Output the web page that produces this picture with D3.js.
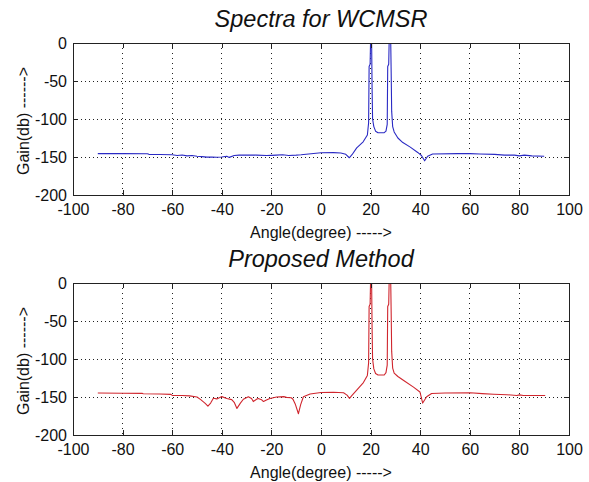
<!DOCTYPE html>
<html>
<head>
<meta charset="utf-8">
<script src="https://cdn.jsdelivr.net/npm/d3@7"></script>
<style>
  html, body { margin: 0; padding: 0; background: #fff; }
  svg { display: block; }
  text { font-family: "Liberation Sans", Arial, Helvetica, sans-serif; fill: #111; }
</style>
</head>
<body>
<script>
// ---------- data ----------
const titles = ["Spectra for WCMSR", "Proposed Method"];
const xLabel = "Angle(degree) ----->";
const yLabel = "Gain(db) ------>";
const xTicks = [-100, -80, -60, -40, -20, 0, 20, 40, 60, 80, 100];
const yTicks = [-200, -150, -100, -50, 0];

const wcmsrAngle = [-90, -80, -70, -69.4, -65, -60, -58, -56, -54, -52, -50, -48, -46, -44, -42, -40, -38, -37, -35, -33, -30, -26, -22, -20, -18, -15.5, -13, -10, -8, -5, -2, 0, 5, 8, 10, 11.4, 12.5, 14.4, 17, 18.7, 19.2, 19.4, 19.8, 20.0, 20.4, 20.6, 20.8, 21.3, 22, 23, 25.5, 26.2, 26.7, 26.9, 27.3, 27.5, 28.1, 28.3, 28.5, 28.9, 29.5, 31, 33, 36, 39, 40.5, 41.8, 43, 45, 55, 60, 64, 70, 74, 78, 80, 82, 85, 90];
const wcmsrGain = [-145.6, -145.6, -145.7, -146.5, -146.7, -147, -148, -147.3, -148.5, -148, -149, -149.5, -150.2, -150, -150.3, -150, -149, -150.5, -148, -147.5, -147.3, -147.5, -148, -147.8, -147.5, -147, -148, -147.5, -147, -146, -145, -144.5, -144.2, -144.8, -146.5, -151, -147, -138, -130, -121, -105, -31, -28, 5, 5, -60, -100, -110, -116, -118, -118, -116, -107, -31, -28, 5, 5, -40, -90, -110, -117, -125, -131, -137, -144, -148, -155, -149, -146, -145.5, -145.5, -146, -146.5, -147.5, -147.5, -148.5, -147.5, -148.5, -149];

const proposedAngle = [-90, -80, -72, -71.7, -65, -60.5, -60, -56, -53, -50, -48.5, -46.8, -45.6, -44.5, -43.4, -42, -40, -38, -36, -35, -33.9, -32.5, -31.3, -29.3, -28, -27.3, -26, -25.3, -24, -23.2, -22, -20.6, -17.9, -15, -13.9, -12, -11.3, -10.3, -9.1, -8.2, -7.1, -4.4, 0, 5, 9.1, 10.5, 11.5, 12.5, 14.4, 17.1, 18.7, 19.2, 19.4, 19.8, 20.0, 20.4, 20.6, 20.8, 21.3, 22, 23, 25.5, 26.2, 26.7, 26.9, 27.3, 27.5, 28.1, 28.3, 28.5, 28.9, 29.5, 31, 33.2, 37.3, 39.9, 41, 42.6, 44.6, 50, 60.2, 65, 69.6, 75, 79, 80, 81.6, 85, 90.4];
const proposedGain = [-144.7, -145, -145.2, -145.8, -146, -146.5, -147.8, -148, -148.5, -150, -153.5, -158, -162, -158, -151.7, -152.5, -149.5, -152, -153.5, -157, -165, -158, -153, -149.6, -152, -156, -153, -152, -153.5, -156, -154, -152, -150, -149.5, -150.5, -151, -153, -160, -172, -160, -149.6, -146, -144, -143.7, -144.5, -147.5, -151.8, -148, -141, -131, -121.6, -105, -31, -28, 5, 5, -60, -100, -113, -119, -121, -121, -118, -108, -31, -28, 5, 5, -40, -90, -112, -118.5, -123, -128, -137, -143.4, -158, -149.7, -145.3, -144.8, -144.5, -145.5, -146.3, -147, -148, -147.2, -148, -148, -148];

const panels = [
  { title: titles[0], angle: wcmsrAngle, gain: wcmsrGain, color: "#2a2ac4", top: 43 },
  { title: titles[1], angle: proposedAngle, gain: proposedGain, color: "#d0262e", top: 283 }
];

// ---------- layout ----------
const W = 589, H = 482;
const left = 73, right = 569, plotH = 152;

const svg = d3.select("body").append("svg").attr("width", W).attr("height", H);
svg.append("rect").attr("width", W).attr("height", H).attr("fill", "#fff");

const x = d3.scaleLinear().domain([-100, 100]).range([left, right]);

panels.forEach((p, i) => {
  const y = d3.scaleLinear().domain([-200, 0]).range([p.top + plotH, p.top]);
  const g = svg.append("g");

  // clip
  const cid = "clip" + i;
  svg.append("clipPath").attr("id", cid).append("rect")
    .attr("x", left).attr("y", p.top).attr("width", right - left).attr("height", plotH);

  // grid
  g.append("g").selectAll("line").data(xTicks.slice(1, -1)).join("line")
    .attr("x1", d => x(d)).attr("x2", d => x(d))
    .attr("y1", p.top).attr("y2", p.top + plotH)
    .attr("stroke", "#222").attr("stroke-width", 1).attr("stroke-dasharray", "1,4")
    .attr("shape-rendering", "crispEdges");
  g.append("g").selectAll("line").data(yTicks.slice(1, -1)).join("line")
    .attr("y1", d => y(d)).attr("y2", d => y(d))
    .attr("x1", left).attr("x2", right)
    .attr("stroke", "#222").attr("stroke-width", 1).attr("stroke-dasharray", "1,3")
    .attr("shape-rendering", "crispEdges");

  // data line
  const pts = p.angle.map((a, k) => [a, p.gain[k]]);
  g.append("path").datum(pts)
    .attr("clip-path", `url(#${cid})`)
    .attr("fill", "none").attr("stroke", p.color).attr("stroke-width", 1.1)
    .attr("stroke-linejoin", "round")
    .attr("d", d3.line().x(d => x(d[0])).y(d => y(d[1])));

  // axes
  const ax = g.append("g").attr("transform", `translate(0,${p.top + plotH})`)
    .call(d3.axisBottom(x).tickValues(xTicks).tickSizeInner(-5).tickSizeOuter(0).tickPadding(9).tickFormat(d3.format("d")));
  const axT = g.append("g").attr("transform", `translate(0,${p.top})`)
    .call(d3.axisTop(x).tickValues(xTicks).tickSizeInner(-5).tickSizeOuter(0).tickFormat(""));
  const ay = g.append("g").attr("transform", `translate(${left},0)`)
    .call(d3.axisLeft(y).tickValues(yTicks).tickSizeInner(-5).tickSizeOuter(0).tickPadding(6).tickFormat(d3.format("d")));
  const ayR = g.append("g").attr("transform", `translate(${right},0)`)
    .call(d3.axisRight(y).tickValues(yTicks).tickSizeInner(-5).tickSizeOuter(0).tickFormat(""));
  [ax, axT, ay, ayR].forEach(a => {
    a.select(".domain").remove();
    a.selectAll("line").attr("stroke", "#222").attr("shape-rendering", "crispEdges");
    a.selectAll("text").attr("font-size", 16).attr("font-family", '"Liberation Sans", Arial, sans-serif').attr("fill", "#111");
  });
  ax.selectAll("text").text(d => d3.format("d")(d).replace("−", "-"));
  ay.selectAll("text").text(d => d3.format("d")(d).replace("−", "-"));

  // box
  g.append("rect").attr("x", left + 0.5).attr("y", p.top + 0.5)
    .attr("width", right - left).attr("height", plotH)
    .attr("fill", "none").attr("stroke", "#222").attr("stroke-width", 1);

  // title
  g.append("text").attr("x", (left + right) / 2).attr("y", p.top - 16)
    .attr("text-anchor", "middle").attr("font-size", 23.5).attr("font-style", "italic")
    .text(p.title);

  // x label
  g.append("text").attr("x", (left + right) / 2).attr("y", p.top + plotH + 43)
    .attr("text-anchor", "middle").attr("font-size", 16)
    .text(xLabel);

  // y label
  g.append("text").attr("transform", `translate(29,${p.top + plotH / 2 + 2}) rotate(-90)`)
    .attr("text-anchor", "middle").attr("font-size", 16)
    .text(yLabel);
});
</script>
</body>
</html>
